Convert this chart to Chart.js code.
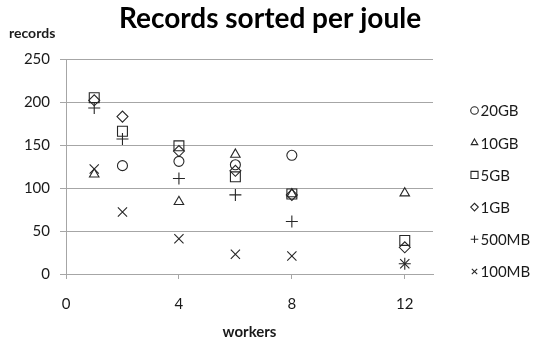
<!DOCTYPE html>
<html>
<head>
<meta charset="utf-8">
<script src="https://cdn.jsdelivr.net/npm/chart.js@4/dist/chart.umd.min.js"></script>
<style>
  html, body { margin: 0; padding: 0; background: #fff; }
  #wrap { width: 538px; height: 341px; position: relative; }
</style>
</head>
<body>
<div id="wrap"><canvas id="c" width="538" height="341"></canvas></div>
<script>
// Number of worker processes (x positions)
const workers = [1, 2, 4, 6, 8, 12];

// Records sorted per joule for each input size (null = no measurement)
const gb20  = [null, 126, 131, 127, 138, null];
const gb10  = [116, null, 84, 139, 93, 94];
const gb5   = [205, 166, 149, 113, 93, 39];
const gb1   = [202, 183, 143, 120, 92, 31];
const mb500 = [193, 157, 111, 92, 61, 12];
const mb100 = [122, 72, 41, 23, 21, 12];

const seriesNames = ['20GB', '10GB', '5GB', '1GB', '500MB', '100MB'];
const xTicks = [0, 4, 8, 12];
const yTicks = [0, 50, 100, 150, 200, 250];

const chartTitle = 'Records sorted per joule';
const yCaption = 'records';
const xCaption = 'workers';

const FONT = 'Lato, "Open Sans", "Liberation Sans", sans-serif';
const INK = '#1a1a1a';
const GRID = '#a6a6a6';
const MARK = '#262626';

function toPoints(values) {
  const pts = [];
  values.forEach((v, i) => { if (v !== null) pts.push({ x: workers[i], y: v }); });
  return pts;
}

const styles = [
  { pointStyle: 'circle',   radius: 5 },
  { pointStyle: 'triangle', radius: 5.5 },
  { pointStyle: 'rect',     radius: 7 },
  { pointStyle: 'rectRot',  radius: 5.5 },
  { pointStyle: 'cross',    radius: 6 },
  { pointStyle: 'crossRot', radius: 6.5 }
];

const allValues = [gb20, gb10, gb5, gb1, mb500, mb100];

const datasets = allValues.map((vals, i) => ({
  label: seriesNames[i],
  data: toPoints(vals),
  pointStyle: styles[i].pointStyle,
  pointRadius: styles[i].radius,
  pointHoverRadius: styles[i].radius,
  pointBorderColor: MARK,
  pointBackgroundColor: 'rgba(0,0,0,0)',
  pointBorderWidth: 1.1,
  showLine: false
}));

// Title, the "records" caption and a vertical legend on the right
const sideText = {
  id: 'sideText',
  afterDraw(chart) {
    const ctx = chart.ctx;
    ctx.save();

    ctx.fillStyle = '#000';
    ctx.font = 'bold 28px ' + FONT;
    ctx.textAlign = 'center';
    ctx.textBaseline = 'alphabetic';
    ctx.fillText(chartTitle, 270, 28);

    ctx.fillStyle = INK;
    ctx.font = 'bold 14px ' + FONT;
    ctx.textAlign = 'left';
    ctx.textBaseline = 'middle';
    ctx.fillText(yCaption, 9, 33);

    const legendX = 474.5;
    const legendTop = 110.5;
    const step = 32.2;
    chart.data.datasets.forEach((ds, i) => {
      const y = legendTop + i * step;
      ctx.strokeStyle = MARK;
      ctx.fillStyle = 'rgba(0,0,0,0)';
      ctx.lineWidth = 1.1;
      Chart.helpers.drawPoint(ctx, {
        pointStyle: ds.pointStyle,
        rotation: 0,
        radius: ds.pointStyle === 'rect' ? 5 : 3.8,
        borderWidth: 1.1
      }, legendX, y);
      ctx.fillStyle = INK;
      ctx.font = '15px ' + FONT;
      ctx.textAlign = 'left';
      ctx.fillText(ds.label, legendX + 6, y + 1);
    });
    ctx.restore();
  }
};

new Chart(document.getElementById('c'), {
  type: 'scatter',
  data: { datasets },
  options: {
    responsive: false,
    animation: false,
    devicePixelRatio: 1,
    layout: { padding: { left: 0, right: 105, top: 59, bottom: 0 } },
    plugins: {
      legend: { display: false },
      tooltip: { enabled: false },
      title: { display: false }
    },
    scales: {
      x: {
        type: 'linear',
        min: 0,
        max: 13,
        afterBuildTicks(scale) { scale.ticks = xTicks.map(v => ({ value: v })); },
        afterFit(scale) { scale.height = 67; },
        ticks: { color: INK, font: { family: FONT, size: 15 }, padding: 16 },
        grid: { display: true, drawOnChartArea: false, drawTicks: true, tickLength: 5, color: GRID },
        border: { display: true, color: GRID, width: 1 },
        title: {
          display: true,
          text: xCaption,
          color: INK,
          font: { family: FONT, size: 15, weight: 'bold' },
          padding: { top: 4, bottom: 0 }
        }
      },
      y: {
        type: 'linear',
        min: 0,
        max: 250,
        afterBuildTicks(scale) { scale.ticks = yTicks.map(v => ({ value: v })); },
        afterFit(scale) { scale.width = 66; },
        ticks: { color: INK, font: { family: FONT, size: 15 }, padding: 10 },
        grid: { color: GRID, tickLength: 6, lineWidth: 1 },
        border: { display: true, color: GRID, width: 1 }
      }
    }
  },
  plugins: [sideText]
});
</script>
</body>
</html>
